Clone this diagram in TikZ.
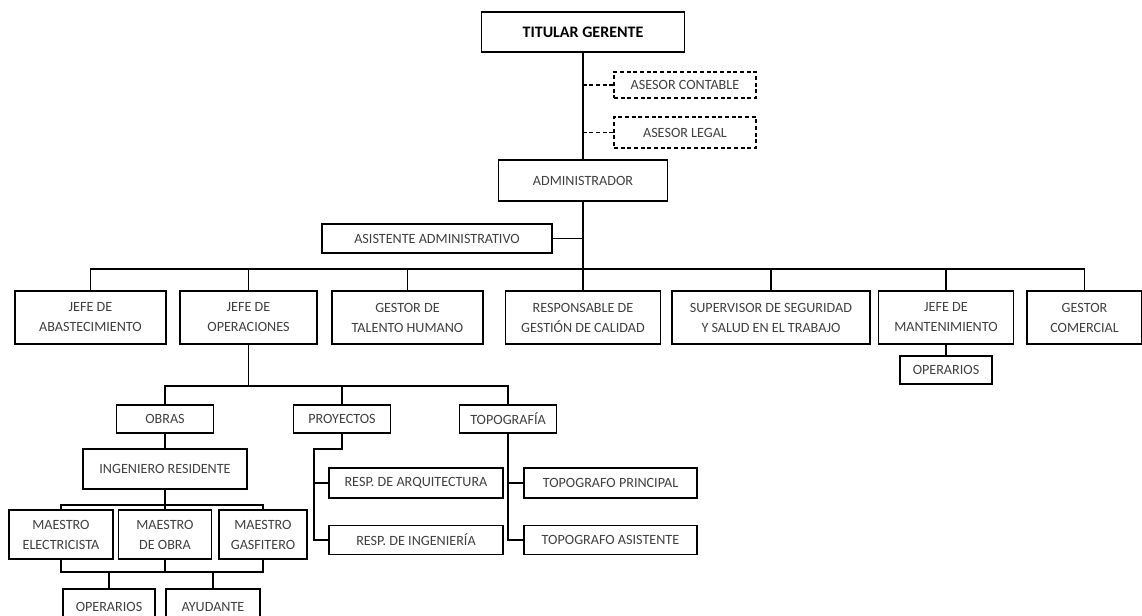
\documentclass[tikz,border=0pt]{standalone}
\usepackage{fontspec}
\setmainfont{Carlito}
\usepackage{xcolor}
\definecolor{gristexto}{RGB}{64,64,64}
\def\px{0.75pt}
\tikzset{caja/.style 2 args={draw=black,text=gristexto,align=center,inner sep=0pt,
                minimum width=#1*\px,minimum height=#2*\px,
                font=\fontsize{10.6}{15}\selectfont}}
\tikzset{asesor/.style={dash pattern=on 3pt off 2pt}}

\begin{document}
\begin{tikzpicture}[x=0.75pt,y=-0.75pt,line width=0.9pt]
    \useasboundingbox (0,0) rectangle (1142,615);
    % gerencia
    \node[caja={203}{40},text=black,font=\fontsize{12}{14}\selectfont\bfseries] (ger) at (583,32) {TITULAR GERENTE};
    \node[caja={142}{26},asesor] (con) at (685,85) {ASESOR CONTABLE};
    \node[caja={142}{31},asesor] (leg) at (685,132.5) {ASESOR LEGAL};
    \node[caja={169}{41}] (adm) at (583,180.5) {ADMINISTRADOR};
    \node[caja={230}{29}] (asis) at (437,238.5) {ASISTENTE ADMINISTRATIVO};
    \draw (ger) -- (adm);
    \draw[asesor] (con.west) -- (con.west -| ger.south);
    \draw[asesor] (leg.west) -- (leg.west -| ger.south);
    \draw (asis.east) -- (asis.east -| adm.south);
    % jefaturas
    \node[caja={151}{53}] (abast) at (90.5,317.5) {JEFE DE\\ABASTECIMIENTO};
    \node[caja={137}{53}] (oper) at (248.5,317.5) {JEFE DE\\OPERACIONES};
    \node[caja={151}{53}] (tal) at (407.5,317.5) {GESTOR DE\\TALENTO HUMANO};
    \node[caja={155}{53}] (resp) at (583,317.5) {RESPONSABLE DE\\GESTIÓN DE CALIDAD};
    \node[caja={198}{53}] (sup) at (771,317.5) {SUPERVISOR DE SEGURIDAD\\Y SALUD EN EL TRABAJO};
    \node[caja={135}{53}] (mant) at (946,317.5) {JEFE DE\\MANTENIMIENTO};
    \node[caja={115}{53}] (com) at (1084.5,317.5) {GESTOR\\COMERCIAL};
    \node[caja={92}{28}] (opm) at (946,370) {OPERARIOS};
    \coordinate (bus) at (583,269);
    \draw (adm) -- (resp);
    \foreach \n in {abast,oper,tal,sup,mant,com}
        \draw (\n.north) |- (bus);
    \draw (mant) -- (opm);
    % operaciones
    \node[caja={97}{28}] (obras) at (165,419) {OBRAS};
    \node[caja={97}{28}] (proy) at (342,419) {PROYECTOS};
    \node[caja={97}{28}] (topo) at (508,419) {TOPOGRAFÍA};
    \coordinate (b2) at (248.5,386);
    \draw (oper.south) -- (b2);
    \foreach \n in {obras,proy,topo}
        \draw (\n.north) |- (b2);
    \node[caja={164}{40}] (ing) at (165,469) {INGENIERO RESIDENTE};
    \draw (obras) -- (ing);
    \node[caja={104}{49}] (melec) at (61,534.5) {MAESTRO\\ELECTRICISTA};
    \node[caja={93}{49}] (mobra) at (165,534.5) {MAESTRO\\DE OBRA};
    \node[caja={88}{49}] (mgas) at (263,534.5) {MAESTRO\\GASFITERO};
    \coordinate (b3) at (165,505);
    \coordinate (b4) at (165,572);
    \draw (ing) -- (b3);
    \foreach \n in {melec,mobra,mgas}{
        \draw (\n.north) |- (b3);
        \draw (\n.south) |- (b4);
    }
    \node[caja={92}{36},text depth=-6pt] (opb) at (109,607) {OPERARIOS};
    \node[caja={94}{36},text depth=-6pt] (ayu) at (213,607) {AYUDANTE};
    \draw (opb.north) |- (b4);
    \draw (ayu.north) |- (b4);
    % proyectos y topografia
    \node[caja={174}{30}] (rarq) at (416,483) {RESP. DE ARQUITECTURA};
    \node[caja={174}{29}] (ring) at (416,540) {RESP. DE INGENIERÍA};
    \node[caja={173}{30}] (tpri) at (610.5,483) {TOPOGRAFO PRINCIPAL};
    \node[caja={173}{29}] (tasi) at (610.5,540) {TOPOGRAFO ASISTENTE};
    \coordinate (p1) at (314,449);
    \draw (proy.south) |- (p1) |- (ring.west);
    \draw (rarq.west) -- (rarq.west -| p1);
    \draw (topo.south) |- (tasi.west);
    \draw (tpri.west) -- (tpri.west -| topo.south);
\end{tikzpicture}
\end{document}
